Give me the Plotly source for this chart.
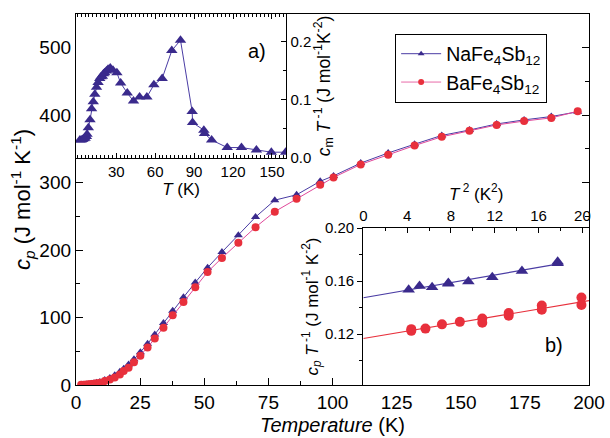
import plotly.graph_objects as go

# ---------------- data ----------------
# main panel: specific heat vs temperature
T_main = [2, 3, 4, 5, 6, 7, 8, 9.3, 11.2, 13.2, 15.1, 17.1, 18.6, 20.5, 22.6, 25.1, 27.9,
          30.7, 34.1, 37.7, 41.9, 46.5, 51.3, 56.9, 63.3, 70, 77.5, 86, 95.2, 100.4, 111,
          121.7, 132, 142.6, 153.4, 164, 174.7, 185.3, 195.6]
cp_Na = [0.3, 0.5, 0.8, 1.2, 1.8, 2.5, 3.3, 4.6, 7.3, 10.5, 14.5, 19.5, 24, 30.5, 38, 48.5, 61,
         75, 92, 110, 130, 152, 174, 197, 222, 249, 274, 282, 302, 310, 329,
         344, 357, 370, 378, 387, 393, 398, 405]
cp_Ba = [0.25, 0.45, 0.7, 1.0, 1.4, 1.9, 2.5, 3.4, 5.8, 8.2, 11.1, 15.5, 20.8, 25.6, 33.8, 43.5, 55.6,
         69, 85, 103.5, 123, 145, 167.6, 188.4, 211, 234, 257, 276, 297, 307.7, 327,
         341.5, 355, 368, 377, 385.5, 391.3, 396, 405.8]

# inset a): magnetic contribution c_m/T of NaFe4Sb12
T_a = [2, 3, 4, 5, 6, 7, 7.5, 8.5, 9.8, 11, 12.3, 13.5, 14.8, 16, 17.3, 18.3, 19.3, 20.2, 21.1,
       22.4, 23.7, 25.4, 27.5, 30.5, 33.4, 38.5, 43.3, 48, 53.6, 59, 65.4, 72.8, 79.5, 88.5,
       88.8, 97.5, 98, 103.5, 115.5, 126.5, 138, 149.5, 160.5]
cmT_a = [0.031, 0.031, 0.032, 0.033, 0.034, 0.037, 0.041, 0.052, 0.066, 0.085, 0.097, 0.110,
         0.122, 0.130, 0.137, 0.140, 0.141, 0.145, 0.147, 0.150, 0.153, 0.155, 0.151, 0.147,
         0.129, 0.112, 0.098, 0.105, 0.105, 0.126, 0.137, 0.185, 0.203, 0.080, 0.061, 0.048,
         0.042, 0.031, 0.018, 0.018, 0.014, 0.010, 0.010]

# inset b): c_p/T vs T^2
T2_Na = [4.14, 5.13, 6.28, 7.76, 7.76, 9.59, 11.77, 14.48, 17.74, 17.74]
cpT_Na = [0.1535, 0.1562, 0.1554, 0.1579, 0.1586, 0.1596, 0.1628, 0.1677, 0.1745, 0.1735]
T2_Ba = [4.38, 4.38, 5.67, 7.18, 8.81, 10.86, 10.86, 13.27, 13.27, 16.29, 16.29, 19.91, 19.91]
cpT_Ba = [0.1237, 0.1224, 0.1241, 0.1273, 0.1292, 0.1317, 0.1285, 0.1359, 0.1339, 0.1415,
          0.1383, 0.1476, 0.1420]
fit_Na_T2 = [0, 18.1]
fit_Na_val = [0.1474, 0.1733]
fit_Ba_T2 = [0, 20.6]
fit_Ba_val = [0.1166, 0.1452]

# tick labels
main_x_ticks = [0, 25, 50, 75, 100, 125, 150, 175, 200]
main_y_ticks = [0, 100, 200, 300, 400, 500]
a_x_ticks = [30, 60, 90, 120, 150]
a_y_ticks = [0.0, 0.1, 0.2]
b_x_ticks = [0, 4, 8, 12, 16, 20]
b_y_ticks = [0.12, 0.16, 0.20]

# ---------------- style ----------------
NA_M = "#3a2a8c"
NA_L = "#4a3ca4"
BA_M = "#e8303c"
BA_L = "#e0489a"
FONT = "Liberation Sans, Arial, sans-serif"

fig = go.Figure()

# main
fig.add_trace(go.Scatter(x=T_main, y=cp_Na, mode="lines+markers", showlegend=False,
                         line=dict(color=NA_L, width=1),
                         marker=dict(symbol="triangle-up", size=8, color=NA_M),
                         xaxis="x", yaxis="y"))
fig.add_trace(go.Scatter(x=T_main, y=cp_Ba, mode="lines+markers", showlegend=False,
                         line=dict(color=BA_L, width=1),
                         marker=dict(symbol="circle", size=8, color=BA_M),
                         xaxis="x", yaxis="y"))
# legend entries
fig.add_trace(go.Scatter(x=[None], y=[None], mode="lines+markers",
                         name="NaFe<sub>4</sub>Sb<sub>12</sub>",
                         line=dict(color=NA_L, width=1),
                         marker=dict(symbol="triangle-up", size=6, color=NA_M)))
fig.add_trace(go.Scatter(x=[None], y=[None], mode="lines+markers",
                         name="BaFe<sub>4</sub>Sb<sub>12</sub>",
                         line=dict(color="#e86aa8", width=1),
                         marker=dict(symbol="circle", size=6, color=BA_M)))

# inset a
fig.add_trace(go.Scatter(x=T_a, y=cmT_a, mode="lines+markers", showlegend=False,
                         line=dict(color=NA_L, width=1),
                         marker=dict(symbol="triangle-up", size=10, color=NA_M),
                         xaxis="x2", yaxis="y2"))

# inset b
fig.add_trace(go.Scatter(x=fit_Na_T2, y=fit_Na_val, mode="lines", showlegend=False,
                         line=dict(color=NA_L, width=1.2), xaxis="x3", yaxis="y3"))
fig.add_trace(go.Scatter(x=fit_Ba_T2, y=fit_Ba_val, mode="lines", showlegend=False,
                         line=dict(color=BA_M, width=1.2), xaxis="x3", yaxis="y3"))
fig.add_trace(go.Scatter(x=T2_Na, y=cpT_Na, mode="markers", showlegend=False,
                         marker=dict(symbol="triangle-up", size=11, color=NA_M),
                         xaxis="x3", yaxis="y3"))
fig.add_trace(go.Scatter(x=T2_Ba, y=cpT_Ba, mode="markers", showlegend=False,
                         marker=dict(symbol="circle", size=10, color=BA_M),
                         xaxis="x3", yaxis="y3"))

L, R, T, B = 76, 18, 5, 53
W, H = 610, 438
pw, ph = W - L - R, H - T - B


def px_x(p):
    return (p - L) / pw


def px_y(p):
    return (H - B - p) / ph


axis_common = dict(showline=True, linecolor="black", linewidth=1.3, showgrid=False,
                   zeroline=False, tickcolor="black", tickwidth=1.2)

fig.update_layout(
    width=W, height=H,
    margin=dict(l=L, r=R, t=T, b=B),
    paper_bgcolor="white", plot_bgcolor="white",
    font=dict(family=FONT, color="black"),
    xaxis=dict(domain=[0, 1], anchor="y", range=[0, 200], tickvals=main_x_ticks,
               ticks="inside", ticklen=7, mirror=True,
               minor=dict(dtick=12.5, ticklen=4, ticks="inside", tickcolor="black"),
               tickfont=dict(size=19),
               title=dict(text="<i>Temperature</i> (K)", font=dict(size=20), standoff=6),
               **axis_common),
    yaxis=dict(domain=[0, 1], anchor="x", range=[0, 550], tickvals=main_y_ticks,
               ticks="inside", ticklen=7, mirror="ticks",
               minor=dict(dtick=50, ticklen=4, ticks="inside", tickcolor="black"),
               tickfont=dict(size=19),
               title=dict(text="<i>c<sub>p</sub></i> (J mol<sup>-1</sup> K<sup>-1</sup>)",
                          font=dict(size=22), standoff=2),
               **axis_common),
    xaxis2=dict(domain=[0, px_x(287.5)], anchor="y2", range=[-1, 161], tickvals=a_x_ticks,
                ticks="inside", ticklen=5, mirror="ticks",
                minor=dict(dtick=3, ticklen=2.5, ticks="inside", tickcolor="black"),
                tickfont=dict(size=15),
                title=dict(text="<i>T</i> (K)", font=dict(size=17), standoff=2),
                **axis_common),
    yaxis2=dict(domain=[px_y(152.5), 1], anchor="x2", side="right", range=[0, 0.248],
                tickvals=a_y_ticks, ticktext=["0.0", "0.1", "0.2"],
                ticks="inside", ticklen=5,
                minor=dict(tickvals=[0.05, 0.15], ticklen=3, ticks="inside", tickcolor="black"),
                tickfont=dict(size=15),
                title=dict(text="<i>c</i><sub>m</sub> <i>T</i><sup> -1</sup> (J mol<sup>-1</sup>K<sup>-2</sup>)",
                           font=dict(size=17.5), standoff=2),
                **axis_common),
    xaxis3=dict(domain=[px_x(365), 1], anchor="y3", side="top", range=[0, 20.6],
                tickvals=b_x_ticks, ticks="inside", ticklen=5,
                minor=dict(dtick=2, ticklen=3, ticks="inside", tickcolor="black"),
                tickfont=dict(size=15),
                title=dict(text="<i>T</i><sup> 2</sup> (K<sup>2</sup>)", font=dict(size=17), standoff=2),
                **axis_common),
    yaxis3=dict(domain=[0, px_y(224.3)], anchor="x3", side="left", range=[0.0815, 0.20],
                tickvals=b_y_ticks, ticktext=["0.12", "0.16", "0.20"],
                ticks="outside", ticklen=5,
                minor=dict(tickvals=[0.10, 0.14, 0.18], ticklen=3, ticks="outside", tickcolor="black"),
                tickfont=dict(size=15),
                title=dict(text="<i>c<sub>p</sub> T</i><sup> -1</sup> (J mol<sup>-1</sup> K<sup>-2</sup>)",
                           font=dict(size=17), standoff=2),
                **axis_common),
    legend=dict(x=px_x(397), y=px_y(25), xanchor="left", yanchor="top",
                bordercolor="black", borderwidth=1, bgcolor="white",
                font=dict(size=19.5), itemwidth=40, tracegroupgap=4),
    annotations=[
        dict(text="a)", x=px_x(258), y=px_y(30), xref="paper", yref="paper",
             showarrow=False, font=dict(size=20)),
        dict(text="b)", x=px_x(568), y=px_y(357), xref="paper", yref="paper",
             showarrow=False, font=dict(size=20)),
    ],
)

fig.write_html("out.html")
